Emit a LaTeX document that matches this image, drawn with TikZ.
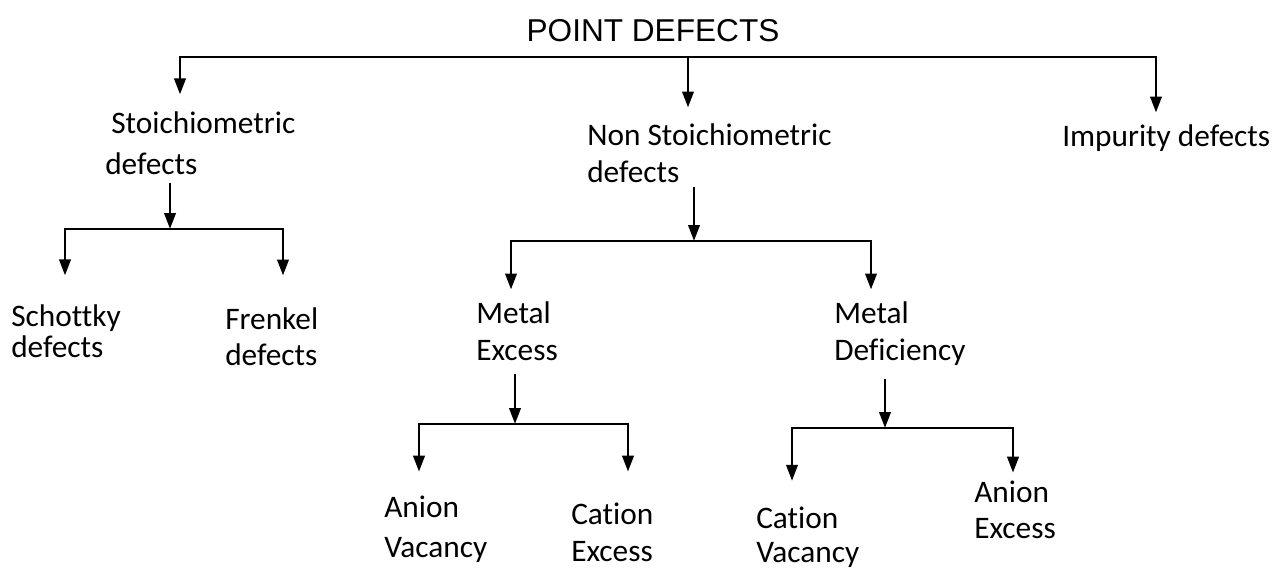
\documentclass[tikz,border=0pt]{standalone}
\usepackage{fontspec}
\setmainfont{Carlito}[Ligatures=NoCommon]
\newfontfamily\titlefont{Liberation Sans}
\usetikzlibrary{arrows.meta}

\begin{document}
\begin{tikzpicture}[
  x=0.75pt, y=-0.75pt,
  txt/.style = {anchor=base west, inner sep=0pt, align=left,
                font=\fontsize{23.5pt}{27pt}\selectfont},
  arr/.style = {line width=2.1pt, -{Triangle[length=12pt, width=8.5pt]}}
  ]
  \useasboundingbox (0,0) rectangle (1283,569);

  % title
  \node[anchor=base, inner sep=0pt, font=\titlefont\fontsize{23.7pt}{28pt}\selectfont]
    (pd) at (653,41) {POINT DEFECTS};

  % first level (placed by the baseline of the last line)
  \node[txt] (stoi) at (105,174) {\hspace*{4.5pt}Stoichiometric\\[3.75pt]defects};
  \node[txt] (non) at (587,182) {Non Stoichiometric\\[0.75pt]defects};
  \node[txt] (imp) at (1062,146) {Impurity defects};

  % second level
  \node[txt] (sch) at (11,357) {Schottky\\[-3.75pt]defects};
  \node[txt] (fre) at (225,365) {Frenkel\\defects};
  \node[txt] (mex) at (476,360) {Metal\\[0.75pt]Excess};
  \node[txt] (mdf) at (834,360) {Metal\\[0.75pt]Deficiency};

  % third level
  \node[txt] (anv) at (384,557) {Anion\\[3pt]Vacancy};
  \node[txt] (cex) at (571,561) {Cation\\[0.75pt]Excess};
  \node[txt] (cav) at (756,562) {Cation\\[-1.5pt]Vacancy};
  \node[txt] (aex) at (974,538) {Anion\\Excess};

  % branch points
  \coordinate (t1) at (180,57);
  \coordinate (t2) at (688,57);
  \coordinate (t3) at (1156,57);
  \coordinate (s0) at (170,229);
  \coordinate (s1) at (65,229);
  \coordinate (s2) at (283,229);
  \coordinate (n0) at (694,241);
  \coordinate (n1) at (511,241);
  \coordinate (n2) at (871,241);
  \coordinate (m0) at (515,424);
  \coordinate (m1) at (419,424);
  \coordinate (m2) at (628,424);
  \coordinate (d0) at (885,428);
  \coordinate (d1) at (792,428);
  \coordinate (d2) at (1013,428);

  % point defects
  \draw[arr, shorten >=12.4pt] (t2) -| (t1 |- stoi.north);
  \draw[arr, shorten >=11.6pt] (t2) -- (t2 |- non.north);
  \draw[arr, shorten >=8.6pt] (t2) -| (t3 |- imp.north);

  % stoichiometric
  \draw[arr, shorten <=6pt] (s0 |- stoi.south) -- (s0);
  \draw[arr, shorten >=21.4pt] (s0) -| (s1 |- sch.north);
  \draw[arr, shorten >=23.6pt] (s0) -| (s2 |- fre.north);

  % non stoichiometric
  \draw[arr, shorten <=3pt] (n0 |- non.south) -- (n0);
  \draw[arr, shorten >=8.6pt] (n0) -| (n1 |- mex.north);
  \draw[arr, shorten >=8.6pt] (n0) -| (n2 |- mdf.north);

  % metal excess
  \draw[arr, shorten <=9.75pt] (m0 |- mex.south) -- (m0);
  \draw[arr, shorten >=17.6pt] (m0) -| (m1 |- anv.north);
  \draw[arr, shorten >=22.9pt] (m0) -| (m2 |- cex.north);

  % metal deficiency
  \draw[arr, shorten <=10.5pt] (d0 |- mdf.south) -- (d0);
  \draw[arr, shorten >=19pt] (d0) -| (d1 |- cav.north);
  \draw[arr, shorten >=5.6pt] (d0) -| (d2 |- aex.north);
\end{tikzpicture}
\end{document}
